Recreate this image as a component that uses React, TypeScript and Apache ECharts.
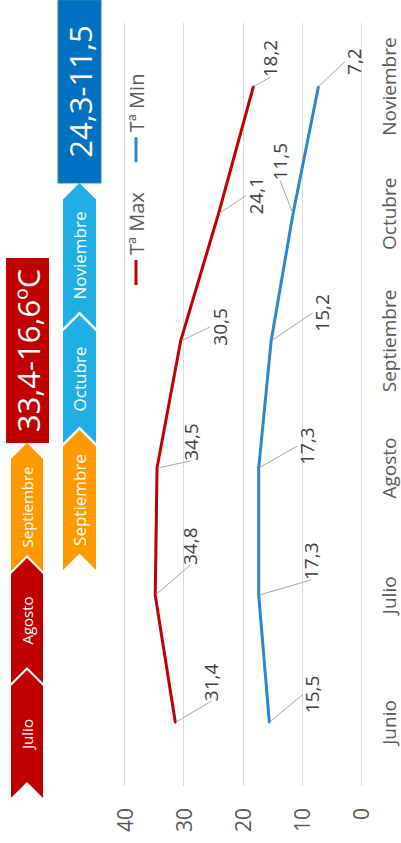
import React, { useEffect, useRef } from "react";
import * as echarts from "echarts";

const months = ["Junio", "Julio", "Agosto", "Septiembre", "Octubre", "Noviembre"];
const tMax = [31.4, 34.8, 34.5, 30.5, 24.1, 18.2];
const tMin = [15.5, 17.3, 17.3, 15.2, 11.5, 7.2];
const seriesNames = ["Tª Max", "Tª Min"];
const valueMin = 0;
const valueMax = 40;
const valueStep = 10;

const summerMonths = ["Julio", "Agosto", "Septiembre"];
const autumnMonths = ["Septiembre", "Octubre", "Noviembre"];
const summerRange = "33,4-16,6ºC";
const autumnRange = "24,3-11,5";

// label offsets (px) relative to each point, chart drawn unrotated then turned
const maxLabelOffset = [[40, 36], [49, 35], [26, 34], [14, 39], [18, 37], [28, 17]];
const minLabelOffset = [[28, 43], [34, 52], [22, 48], [28, 51], [52, -13], [25, 36]];

const FONT = "'Open Sans', sans-serif";
const RED = "#C00000";
const BLUE_LINE = "#2E86CC";
const ORANGE = "#FF9900";
const LIGHT_BLUE = "#21AEE4";
const DARK_BLUE = "#0070C0";

const W = 843;
const H = 401;

function chevron(x0: number, x1: number, y0: number, h: number, color: string, text: string, size: number) {
  const d = h / 2;
  return [
    {
      type: "polygon",
      shape: {
        points: [
          [x0, y0],
          [x1 - d, y0],
          [x1, y0 + d],
          [x1 - d, y0 + h],
          [x0, y0 + h],
          [x0 + d, y0 + d],
        ],
      },
      style: { fill: color },
    },
    {
      type: "text",
      x: (x0 + x1) / 2,
      y: y0 + d,
      style: {
        text,
        fill: "#ffffff",
        font: `${size}px ${FONT}`,
        textAlign: "center",
        textVerticalAlign: "middle",
      },
    },
  ];
}

const fmt = (v: number) => v.toFixed(1).replace(".", ",");

export default function App() {
  const ref = useRef<HTMLDivElement>(null);
  useEffect(() => {
    if (!ref.current) return;
    const chart = echarts.init(ref.current, undefined, { renderer: "svg", width: W, height: H });

    const rowA = [[45, 173], [160, 285], [272, 400]];
    const rowAColors = [RED, RED, ORANGE];
    const rowB = [[273, 413], [400, 528], [515, 660]];
    const rowBColors = [ORANGE, LIGHT_BLUE, LIGHT_BLUE];

    const graphics: any[] = [];
    summerMonths.forEach((m, i) => graphics.push(...chevron(rowA[i][0], rowA[i][1], 11, 32, rowAColors[i], m, 15)));
    autumnMonths.forEach((m, i) => graphics.push(...chevron(rowB[i][0], rowB[i][1], 63, 33, rowBColors[i], m, 17)));
    graphics.push(
      { type: "rect", shape: { x: 400, y: 6, width: 185, height: 43 }, style: { fill: RED } },
      {
        type: "text",
        x: 492.5,
        y: 28,
        style: { text: summerRange, fill: "#fff", font: `31px ${FONT}`, textAlign: "center", textVerticalAlign: "middle" },
      },
      { type: "rect", shape: { x: 660, y: 58, width: 183, height: 43 }, style: { fill: DARK_BLUE, stroke: "#2A86B8", lineWidth: 1 } },
      {
        type: "text",
        x: 751.5,
        y: 80,
        style: { text: autumnRange, fill: "#fff", font: `31px ${FONT}`, textAlign: "center", textVerticalAlign: "middle" },
      }
    );

    const mkSeries = (name: string, data: number[], color: string, offs: number[][]) => ({
      name,
      type: "line",
      data,
      symbol: "circle",
      symbolSize: 2,
      itemStyle: { color },
      lineStyle: { color, width: 3 },
      label: {
        show: true,
        position: "inside",
        formatter: (p: any) => fmt(p.value),
        fontFamily: FONT,
        fontSize: 19,
        color: "#404040",
      },
      labelLine: { show: true, lineStyle: { color: "#A6A6A6", width: 1 } },
      labelLayout: (p: any) => ({ dx: offs[p.dataIndex][0], dy: offs[p.dataIndex][1] }),
    });

    chart.setOption({
      animation: false,
      textStyle: { fontFamily: FONT },
      grid: { left: 57, right: 23, top: 124.5, bottom: 40, containLabel: false },
      legend: {
        left: 553,
        top: 121,
        icon: "rect",
        itemWidth: 25,
        itemHeight: 3,
        itemGap: 30,
        textStyle: { fontSize: 20, color: "#595959", fontFamily: FONT },
        data: seriesNames,
      },
      xAxis: {
        type: "category",
        data: months,
        boundaryGap: true,
        axisLine: { show: false },
        axisTick: { show: false },
        axisLabel: { interval: 0, hideOverlap: false, fontSize: 19, color: "#595959", margin: 18, fontFamily: FONT },
      },
      yAxis: {
        type: "value",
        min: valueMin,
        max: valueMax,
        interval: valueStep,
        axisLine: { show: false },
        axisTick: { show: false },
        axisLabel: { fontSize: 21, color: "#595959", margin: 22, fontFamily: FONT },
        splitLine: { lineStyle: { color: "#D9D9D9", width: 1 } },
      },
      series: [
        mkSeries(seriesNames[0], tMax, RED, maxLabelOffset),
        mkSeries(seriesNames[1], tMin, BLUE_LINE, minLabelOffset),
      ],
      graphic: graphics,
    });
    return () => chart.dispose();
  }, []);

  return (
    <div style={{ position: "fixed", left: 0, top: 0, width: 401, height: 843, overflow: "hidden", background: "#fff" }}>
      <div
        style={{
          position: "absolute",
          left: 0,
          top: 0,
          width: W,
          height: H,
          transformOrigin: "0 0",
          transform: `translate(0px, ${W}px) rotate(-90deg)`,
        }}
      >
        <div ref={ref} style={{ width: W, height: H }} />
      </div>
    </div>
  );
}
